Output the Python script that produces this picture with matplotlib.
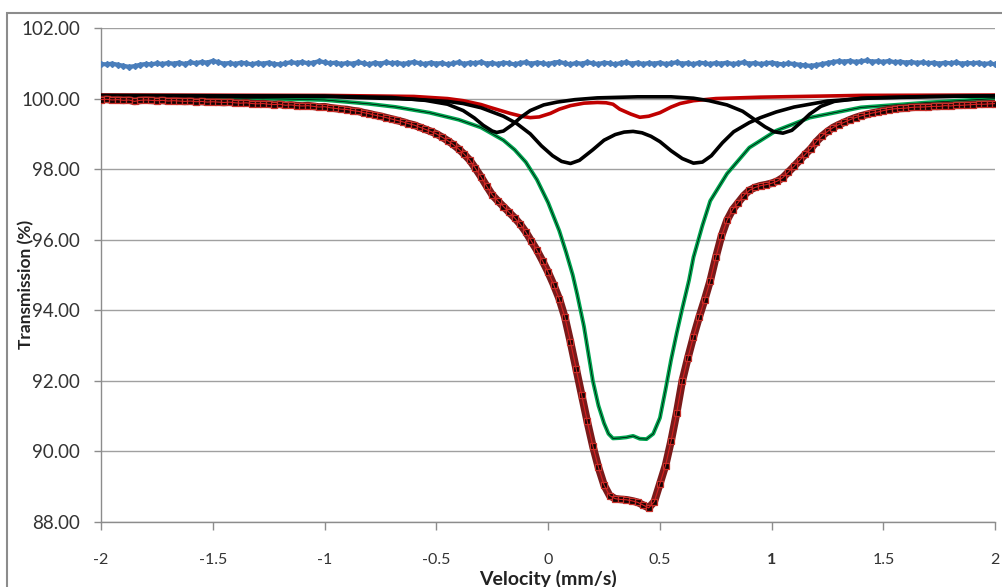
import numpy as np
import matplotlib
matplotlib.use("Agg")
import matplotlib.pyplot as plt
from matplotlib.patches import Rectangle

plt.rcParams["font.family"] = ["Lato", "DejaVu Sans"]

# measured spectrum: 161 channels from -2 to 2 mm/s
velocity = np.linspace(-2.0, 2.0, 161)
transmission = [
    99.97, 99.98, 99.96, 99.97, 99.95, 99.96, 99.92, 99.95, 99.96, 99.95,
    99.94, 99.95, 99.93, 99.94, 99.93, 99.92, 99.93, 99.91, 99.92, 99.90,
    99.91, 99.90, 99.89, 99.90, 99.88, 99.87, 99.88, 99.86, 99.85, 99.86,
    99.84, 99.83, 99.84, 99.81, 99.82, 99.80, 99.79, 99.80, 99.78, 99.76,
    99.77, 99.74, 99.72, 99.70, 99.69, 99.66, 99.64, 99.60, 99.57, 99.53,
    99.50, 99.46, 99.42, 99.38, 99.34, 99.29, 99.25, 99.19, 99.13, 99.07,
    99.00, 98.91, 98.81, 98.70, 98.57, 98.42, 98.25, 98.02, 97.78, 97.52,
    97.27, 97.10, 96.94, 96.78, 96.62, 96.44, 96.22, 95.96, 95.70, 95.40,
    95.08, 94.72, 94.32, 93.80, 93.10, 92.35, 91.60, 90.85, 90.15, 89.55,
    89.05, 88.75, 88.66, 88.64, 88.63, 88.60, 88.56, 88.48, 88.40, 88.58,
    89.09, 89.60, 90.30, 91.10, 92.00, 92.65, 93.25, 93.80, 94.30, 94.84,
    95.50, 96.10, 96.55, 96.85, 97.05, 97.25, 97.40, 97.48, 97.53, 97.56,
    97.60, 97.66, 97.76, 97.92, 98.08, 98.25, 98.42, 98.58, 98.78, 98.94,
    99.07, 99.18, 99.26, 99.33, 99.40, 99.46, 99.51, 99.55, 99.59, 99.62,
    99.66, 99.69, 99.71, 99.72, 99.73, 99.75, 99.76, 99.76, 99.77, 99.78,
    99.78, 99.80, 99.79, 99.81, 99.81, 99.82, 99.83, 99.84, 99.84, 99.85,
    99.86,
]
# residual, shifted up to sit around 101
residual = [
    100.98, 100.97, 100.99, 100.96, 100.93, 100.90, 100.92, 100.96, 100.98, 100.97,
    101.00, 100.98, 101.01, 100.99, 101.02, 100.98, 101.03, 101.00, 101.04, 101.02,
    101.07, 101.03, 100.99, 101.01, 100.98, 101.02, 101.00, 100.97, 101.01, 100.99,
    101.02, 100.98, 100.97, 101.00, 101.03, 101.01, 101.04, 101.00, 101.02, 101.06,
    101.03, 101.00, 101.02, 100.98, 101.01, 100.99, 101.03, 101.00, 100.97, 101.02,
    100.99, 101.03, 101.00, 101.02, 100.98, 101.01, 101.04, 101.00, 100.98, 101.02,
    100.99, 101.01, 100.97, 101.00, 101.03, 100.98, 101.02, 101.00, 101.04, 100.99,
    101.01, 100.98, 101.02, 101.00, 100.97, 101.01, 101.03, 100.99, 101.02, 101.00,
    100.98, 101.02, 101.04, 101.00, 100.97, 101.01, 100.99, 101.03, 101.00, 100.98,
    101.02, 101.00, 100.97, 101.01, 101.03, 100.99, 101.02, 100.98, 101.01, 100.99,
    101.02, 100.98, 101.00, 101.03, 100.99, 101.01, 100.97, 101.02, 101.00, 100.98,
    101.01, 100.99, 101.02, 100.98, 101.00, 101.03, 100.99, 101.01, 100.98, 101.00,
    101.02, 100.99, 100.97, 101.00, 100.98, 100.96, 100.94, 100.93, 100.95, 100.98,
    101.01, 101.04, 101.06, 101.05, 101.07, 101.04, 101.06, 101.08, 101.05, 101.06,
    101.04, 101.07, 101.03, 101.05, 101.02, 101.04, 101.01, 101.03, 101.00, 101.02,
    100.99, 101.02, 101.00, 101.03, 100.99, 101.01, 101.00, 101.02, 100.98, 101.00,
    100.97,
]

# fitted sub-spectra (velocity, transmission)
green_v = [-2.0, -1.5, -1.2, -1.0, -0.8, -0.68, -0.53, -0.40, -0.30, -0.20,
           -0.15, -0.10, -0.05, 0.00, 0.05, 0.08, 0.11, 0.13, 0.16, 0.20,
           0.225, 0.25, 0.27, 0.29, 0.32, 0.35, 0.38, 0.41, 0.44, 0.47,
           0.50, 0.525, 0.55, 0.575, 0.60, 0.63, 0.65, 0.69, 0.725, 0.80,
           0.90, 1.02, 1.17, 1.40, 1.70, 2.00]
green_t = [100.05, 100.02, 99.99, 99.96, 99.85, 99.76, 99.60, 99.40, 99.18, 98.82,
           98.55, 98.20, 97.70, 97.05, 96.25, 95.65, 95.00, 94.45, 93.55, 92.00,
           91.30, 90.80, 90.50, 90.37, 90.38, 90.40, 90.44, 90.36, 90.35, 90.50,
           90.95, 91.75, 92.60, 93.35, 94.05, 94.85, 95.50, 96.40, 97.10, 97.87,
           98.61, 99.09, 99.46, 99.75, 99.89, 100.00]

red_v = [-2.0, -1.0, -0.6, -0.45, -0.38, -0.30, -0.26, -0.17, -0.12, -0.08,
         -0.04, 0.01, 0.05, 0.10, 0.16, 0.22, 0.26, 0.29, 0.32, 0.37,
         0.41, 0.45, 0.50, 0.55, 0.59, 0.65, 0.75, 0.95, 1.40, 2.00]
red_t = [100.10, 100.09, 100.06, 100.00, 99.94, 99.83, 99.75, 99.58, 99.50, 99.46,
         99.48, 99.58, 99.70, 99.80, 99.87, 99.89, 99.88, 99.84, 99.70, 99.56,
         99.47, 99.50, 99.60, 99.76, 99.86, 99.94, 100.00, 100.04, 100.09, 100.10]

inner_v = [-2.0, -1.0, -0.6, -0.45, -0.38, -0.30, -0.20, -0.14, -0.08, -0.03,
           0.02, 0.06, 0.10, 0.14, 0.20, 0.25, 0.30, 0.34, 0.38, 0.42,
           0.46, 0.50, 0.55, 0.60, 0.65, 0.69, 0.73, 0.78, 0.83, 0.90,
           0.95, 1.02, 1.10, 1.25, 1.45, 1.70, 2.00]
inner_t = [100.08, 100.06, 99.98, 99.92, 99.86, 99.74, 99.50, 99.29, 99.00, 98.66,
           98.38, 98.22, 98.16, 98.25, 98.55, 98.82, 98.98, 99.05, 99.07, 99.03,
           98.93, 98.78, 98.52, 98.30, 98.17, 98.20, 98.38, 98.75, 99.06, 99.32,
           99.46, 99.62, 99.76, 99.93, 100.02, 100.05, 100.08]

outer_v = [-2.0, -1.0, -0.70, -0.55, -0.45, -0.38, -0.33, -0.29, -0.25, -0.23,
           -0.20, -0.16, -0.12, -0.08, -0.02, 0.04, 0.12, 0.22, 0.40, 0.55,
           0.65, 0.72, 0.80, 0.87, 0.92, 0.97, 1.01, 1.05, 1.09, 1.13,
           1.17, 1.22, 1.28, 1.40, 1.70, 2.00]
outer_t = [100.09, 100.07, 100.03, 99.95, 99.84, 99.66, 99.45, 99.24, 99.08, 99.04,
           99.08, 99.26, 99.48, 99.66, 99.82, 99.90, 99.97, 100.02, 100.05, 100.05,
           100.01, 99.94, 99.82, 99.64, 99.42, 99.20, 99.06, 99.02, 99.10, 99.32,
           99.56, 99.78, 99.92, 100.01, 100.06, 100.08]

x_ticks = [-2, -1.5, -1, -0.5, 0, 0.5, 1, 1.5, 2]
x_tick_labels = ["-2", "-1.5", "-1", "-0.5", "0", "0.5", "1", "1.5", "2"]
y_ticks = [88, 90, 92, 94, 96, 98, 100, 102]


def main() -> None:
    fig = plt.figure(figsize=(10.03, 5.87), dpi=100)
    ax = fig.add_axes([0.1007, 0.1107, 0.8916, 0.8416])

    ax.plot(velocity, residual, color="#4a7ebb", lw=3.0, marker="D", ms=3.0,
            mec="#4a7ebb", zorder=3)
    ax.plot(red_v, red_t, color="#c00000", lw=2.6, zorder=3)
    ax.plot(green_v, green_t, color="#00a550", lw=2.8, zorder=3)
    ax.plot(green_v, green_t, color="black", lw=0.5, zorder=3.1)
    ax.plot(inner_v, inner_t, color="black", lw=2.6, zorder=4)
    ax.plot(outer_v, outer_t, color="black", lw=2.6, zorder=4)
    # dense channels overlap into a band in the original
    ax.plot(velocity, transmission, color="#7a1a1a", lw=5.5,
            solid_capstyle="butt", zorder=5)
    ax.plot(velocity, transmission, ls="none", marker="s", ms=4.5,
            mfc="#140303", mec="#c8302a", mew=0.9, zorder=5.1)
    ax.plot(velocity, transmission, color="#d82020", lw=0.8, zorder=6)

    ax.set_xlim(-2, 2)
    ax.set_ylim(88, 102)
    ax.set_xticks(x_ticks)
    ax.set_xticklabels(x_tick_labels)
    ax.set_yticks(y_ticks)
    ax.set_yticklabels([f"{v:.2f}" for v in y_ticks])
    for lab in ax.get_xticklabels():
        if lab.get_text() == "1":
            lab.set_fontweight("bold")

    ax.grid(axis="y", color="#a0a0a0", lw=1.0)
    ax.set_axisbelow(True)
    for side in ("top", "right"):
        ax.spines[side].set_visible(False)
    for side in ("left", "bottom"):
        ax.spines[side].set_color("#8c8c8c")
        ax.spines[side].set_linewidth(1.0)
    ax.tick_params(axis="x", direction="out", length=6, width=1, color="#8c8c8c",
                   pad=16, labelsize=11.5, labelcolor="#333333")
    ax.tick_params(axis="y", direction="out", length=5, width=1, color="#8c8c8c",
                   pad=10, labelsize=13.5, labelcolor="#333333")

    ax.set_xlabel("Velocity (mm/s)", fontsize=14, fontweight="bold", color="#222222")
    ax.xaxis.set_label_coords(0.5, -0.097)
    ax.set_ylabel("Transmission (%)", fontsize=12.5, fontweight="bold", color="#222222")
    ax.yaxis.set_label_coords(-0.075, 0.48)

    # outer chart border, cut off at the right and bottom
    fig.patches.append(Rectangle((7 / 1003, -0.2), 1.2, 1.2 - 13 / 587,
                                 transform=fig.transFigure, fill=False,
                                 edgecolor="#8c8c8c", lw=1.5, clip_on=False))

    fig.savefig("out.png", dpi=100)
    plt.close(fig)


if __name__ == "__main__":
    main()
